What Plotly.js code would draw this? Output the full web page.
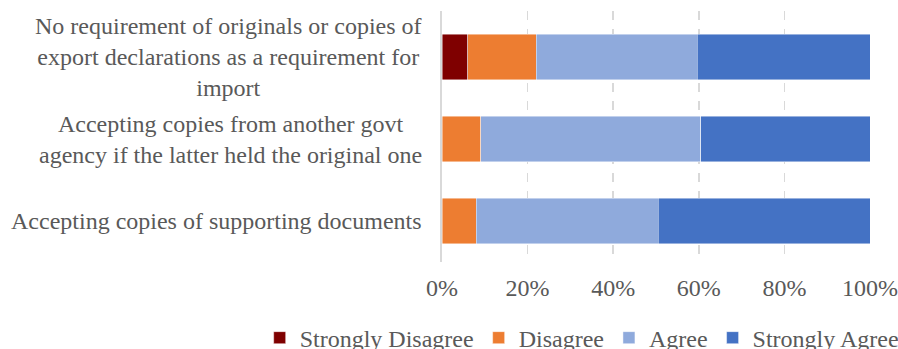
<!DOCTYPE html>
<html>
<head>
<meta charset="utf-8">
<script src="https://cdn.plot.ly/plotly-3.0.1.min.js"></script>
<style>html,body{margin:0;padding:0;background:#fff;}#chart{width:898px;height:349px;}</style>
</head>
<body>
<div id="chart"></div>
<script>
const categories = [
  "No requirement of originals or copies of<br>export declarations as a requirement for<br>import",
  "Accepting copies from another govt<br>agency if the latter held the original one",
  "Accepting copies of supporting documents"
];
const seriesNames = ["Strongly Disagree", "Disagree", "Agree", "Strongly Agree"];
const stronglyDisagree = [6, 0, 0];
const disagree = [16, 9, 8];
const agree = [37.6, 51.5, 42.5];
const stronglyAgree = [40.4, 39.5, 49.5];
const tickVals = [0, 20, 40, 60, 80, 100];
const tickLabels = ["0%", "20%", "40%", "60%", "80%", "100%"];

const colors = ["#7f0000", "#ed7d31", "#8faadc", "#4472c4"];
const seriesValues = [stronglyDisagree, disagree, agree, stronglyAgree];
const FONT = "Liberation Serif";
const GREY = "#595959";

const traces = seriesValues.map((vals, i) => ({
  type: "bar",
  orientation: "h",
  name: seriesNames[i],
  y: categories,
  x: vals,
  marker: {color: colors[i], line: {color: "rgba(255,255,255,0.6)", width: 0.75}},
  hoverinfo: "x+name"
}));

const annotations = categories.map(c => ({
  xref: "paper", yref: "y", x: 0, y: c,
  xanchor: "right", yanchor: "middle", xshift: -18,
  align: "center", showarrow: false, text: c,
  font: {family: FONT, size: 24, color: GREY}
}));

const layout = {
  width: 898, height: 349,
  margin: {l: 442, r: 28, t: 11, b: 87, autoexpand: false},
  barmode: "stack",
  bargap: 0.44,
  paper_bgcolor: "#fff", plot_bgcolor: "#fff",
  font: {family: FONT, size: 24, color: GREY},
  showlegend: true,
  legend: {
    orientation: "h", traceorder: "normal",
    bgcolor: "rgba(0,0,0,0)",
    x: -0.426, xanchor: "left", y: -0.303, yanchor: "middle",
    font: {family: FONT, size: 24, color: GREY},
    itemwidth: 30
  },
  xaxis: {
    range: [0, 100], tickvals: tickVals, ticktext: tickLabels,
    showgrid: true, gridcolor: "#d9d9d9", gridwidth: 1.5, griddash: "dash",
    zeroline: false, showline: false, ticks: "", automargin: false,
    ticklabelstandoff: 9,
    tickfont: {family: FONT, size: 24, color: GREY},
    fixedrange: true
  },
  yaxis: {
    type: "category", autorange: "reversed", automargin: false,
    showticklabels: false, showgrid: false, zeroline: false,
    showline: true, linecolor: "#d9d9d9", linewidth: 2, ticks: "",
    fixedrange: true
  },
  annotations: annotations
};

Plotly.newPlot("chart", traces, layout, {displayModeBar: false, staticPlot: true});
</script>
</body>
</html>
